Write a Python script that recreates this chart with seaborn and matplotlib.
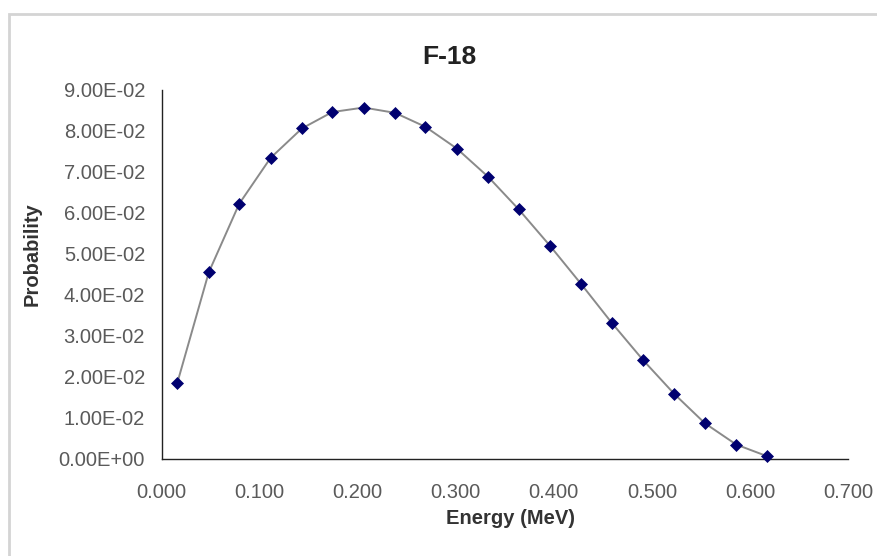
import matplotlib
matplotlib.use("Agg")
import matplotlib.pyplot as plt
from matplotlib.patches import Rectangle
from matplotlib.ticker import FuncFormatter, MultipleLocator
import seaborn as sns
import pandas as pd

# F-18 positron energy spectrum (bin centres, MeV) and probability per bin
energy_mev = [0.016, 0.048, 0.079, 0.111, 0.143, 0.174, 0.206, 0.238, 0.269, 0.301,
              0.333, 0.364, 0.396, 0.428, 0.459, 0.491, 0.523, 0.554, 0.586, 0.617]
probability = [0.0185, 0.0454, 0.0621, 0.0733, 0.0805, 0.0845, 0.0856, 0.0843, 0.0809, 0.0756,
               0.0687, 0.0608, 0.0519, 0.0425, 0.0331, 0.0240, 0.0157, 0.0086, 0.0034, 0.0006]

title = "F-18"
x_label = "Energy (MeV)"
y_label = "Probability"

df = pd.DataFrame({"energy": energy_mev, "prob": probability})

sns.set_style("white")
plt.rcParams["font.family"] = ["Liberation Sans", "DejaVu Sans"]

W, H = 877, 556
fig = plt.figure(figsize=(W / 100, H / 100), dpi=100)
fig.patch.set_facecolor("white")

# chart-area frame (left and top edges visible)
fig.add_artist(Rectangle((9 / W, -0.1), 1.2, 1.1 - 14 / H,
                         transform=fig.transFigure, fill=False,
                         edgecolor="#d4d4d4", linewidth=2.0, clip_on=False))

left, right = 161.7 / W, 848 / W
bottom, top = 1 - 458.5 / H, 1 - 89.5 / H
ax = fig.add_axes([left, bottom, right - left, top - bottom])

sns.lineplot(data=df, x="energy", y="prob", ax=ax, color="#8a8a8a",
             linewidth=1.4, marker="D", markersize=6.6,
             markerfacecolor="#000070", markeredgecolor="#000070",
             markeredgewidth=0.5, clip_on=False, zorder=3)

ax.set_xlim(0, 0.7)
ax.set_ylim(0, 0.09)
ax.xaxis.set_major_locator(MultipleLocator(0.1))
ax.yaxis.set_major_locator(MultipleLocator(0.01))
ax.xaxis.set_major_formatter(FuncFormatter(lambda v, p: f"{v:.3f}"))
ax.yaxis.set_major_formatter(FuncFormatter(lambda v, p: f"{v:.2E}"))

for side in ("top", "right"):
    ax.spines[side].set_visible(False)
for side in ("left", "bottom"):
    ax.spines[side].set_color("#222222")
    ax.spines[side].set_linewidth(1.0)

ax.tick_params(axis="both", which="major", direction="out", length=5,
               width=1.0, color="#222222", labelsize=14.5, labelcolor="#5a5a5a")
ax.tick_params(axis="y", pad=7)
ax.tick_params(axis="x", pad=13)
ax.set_xlabel("")
ax.set_ylabel("")
ax.grid(False)

fig.text(449 / W, 1 - 57 / H, title, ha="center", va="center",
         fontsize=19, fontweight="bold", color="#222222")
fig.text(510 / W, 1 - 519 / H, x_label, ha="center", va="center",
         fontsize=14.5, fontweight="bold", color="#333333")
fig.text(32 / W, 1 - 254 / H, y_label, ha="center", va="center",
         rotation=90, fontsize=14.5, fontweight="bold", color="#333333")

fig.savefig("out.png", dpi=100, facecolor="white")
